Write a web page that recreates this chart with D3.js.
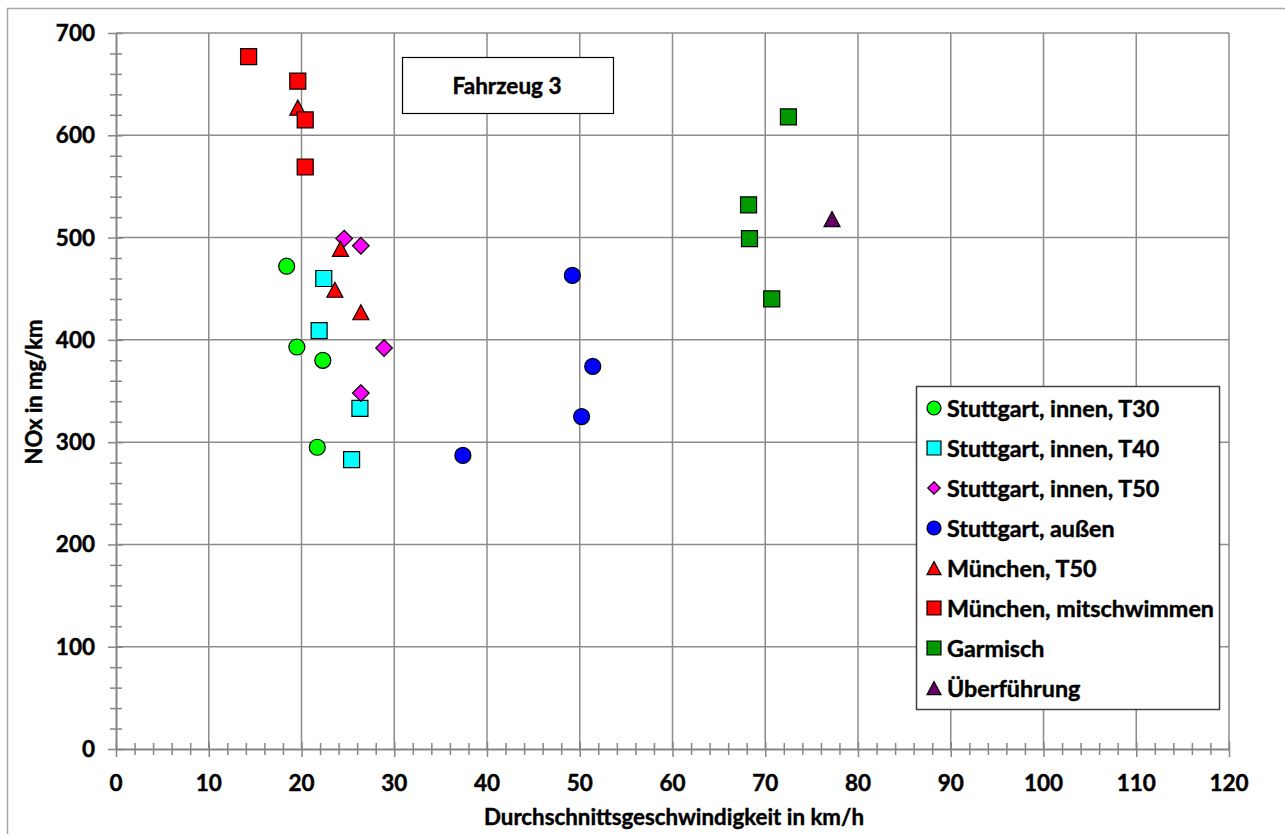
<!DOCTYPE html>
<html>
<head>
<meta charset="utf-8">
<script src="https://cdn.jsdelivr.net/npm/d3@7/dist/d3.min.js"></script>
<style>
  html, body { margin: 0; padding: 0; background: #fff; }
  svg { display: block; font-family: Lato, "Open Sans", sans-serif; font-weight: bold; }
  svg text { stroke: #000; stroke-width: 0.45px; }
</style>
</head>
<body>
<svg id="chart" width="1285" height="834"></svg>
<script>
// ---- data ----
const seriesNames = ["Stuttgart, innen, T30", "Stuttgart, innen, T40", "Stuttgart, innen, T50",
  "Stuttgart, außen", "München, T50", "München, mitschwimmen", "Garmisch", "Überführung"];
const t30Speed = [18.4, 19.5, 22.3, 21.7];
const t30NOx   = [472, 393, 380, 295];
const t40Speed = [22.4, 21.9, 26.3, 25.4];
const t40NOx   = [460, 409, 333, 283];
const t50Speed = [24.6, 26.4, 28.9, 26.4];
const t50NOx   = [499, 492, 392, 348];
const aussenSpeed = [49.2, 51.4, 50.2, 37.4];
const aussenNOx   = [463, 374, 325, 287];
const muenT50Speed = [19.6, 24.2, 23.6, 26.4];
const muenT50NOx   = [627, 489, 449, 427];
const muenMitSpeed = [14.3, 19.6, 20.4, 20.4];
const muenMitNOx   = [677, 653, 615, 569];
const garmischSpeed = [72.5, 68.2, 68.3, 70.7];
const garmischNOx   = [618, 532, 499, 440];
const ueberSpeed = [77.2];
const ueberNOx   = [518];
const xTicks = [0, 10, 20, 30, 40, 50, 60, 70, 80, 90, 100, 110, 120];
const yTicks = [0, 100, 200, 300, 400, 500, 600, 700];
const titleText = "Fahrzeug 3";
const xTitle = "Durchschnittsgeschwindigkeit in km/h";
const yTitle = "NOx in mg/km";

const series = [
  { name: seriesNames[0], xs: t30Speed, ys: t30NOx, shape: "circle", fill: "#00ff00" },
  { name: seriesNames[1], xs: t40Speed, ys: t40NOx, shape: "square", fill: "#00ffff" },
  { name: seriesNames[2], xs: t50Speed, ys: t50NOx, shape: "diamond", fill: "#ff00ff" },
  { name: seriesNames[3], xs: aussenSpeed, ys: aussenNOx, shape: "circle", fill: "#0000ff" },
  { name: seriesNames[4], xs: muenT50Speed, ys: muenT50NOx, shape: "triangle", fill: "#ff0000" },
  { name: seriesNames[5], xs: muenMitSpeed, ys: muenMitNOx, shape: "square", fill: "#ff0000" },
  { name: seriesNames[6], xs: garmischSpeed, ys: garmischNOx, shape: "square", fill: "#009900" },
  { name: seriesNames[7], xs: ueberSpeed, ys: ueberNOx, shape: "triangle", fill: "#660066" }
];

// ---- layout ----
const svg = d3.select("#chart");
const x = d3.scaleLinear().domain([0, 120]).range([116, 1229]);
const y = d3.scaleLinear().domain([0, 700]).range([749, 33]);

function shapePath(shape, s) {
  const h = s / 2;
  if (shape === "square") return `M${-h},${-h}H${h}V${h}H${-h}Z`;
  if (shape === "diamond") { const d = s * 0.52; return `M0,${-d}L${d},0L0,${d}L${-d},0Z`; }
  if (shape === "triangle") { const th = s * 0.47; return `M0,${-th}L${h},${th}L${-h},${th}Z`; }
  return `M${h},0A${h},${h} 0 1,1 ${-h},0A${h},${h} 0 1,1 ${h},0Z`;
}

// outer frame
svg.append("rect").attr("x", 7.5).attr("y", 8.5).attr("width", 1300).attr("height", 850)
  .attr("fill", "#fff").attr("stroke", "#a6a6a6").attr("stroke-width", 1.5);

// grid
const gridColor = "#8c8c8c";
svg.append("g").selectAll("line").data(xTicks.filter(d => d > 0)).join("line")
  .attr("x1", d => x(d)).attr("x2", d => x(d)).attr("y1", y(700)).attr("y2", y(0))
  .attr("stroke", gridColor).attr("stroke-width", 1.5);
svg.append("g").selectAll("line").data(yTicks.filter(d => d > 0)).join("line")
  .attr("x1", x(0)).attr("x2", x(120)).attr("y1", d => y(d)).attr("y2", d => y(d))
  .attr("stroke", gridColor).attr("stroke-width", 1.5);

// axes
const axisColor = "#868686";
const xAxis = d3.axisBottom(x).tickValues(d3.range(0, 121, 2)).tickSize(0).tickFormat("");
const yAxis = d3.axisLeft(y).tickValues(d3.range(0, 701, 20)).tickSize(0).tickFormat("");
const gx = svg.append("g").attr("transform", `translate(0,${y(0)})`).call(xAxis);
const gy = svg.append("g").attr("transform", `translate(${x(0)},0)`).call(yAxis);
gx.select(".domain").attr("stroke", axisColor).attr("stroke-width", 2);
gy.select(".domain").attr("stroke", axisColor).attr("stroke-width", 2);
gx.selectAll(".tick line").attr("y1", d => d % 10 === 0 ? -7 : -6).attr("y2", d => d % 10 === 0 ? 8 : 6)
  .attr("stroke", axisColor).attr("stroke-width", 1.5);
gy.selectAll(".tick line").attr("x1", d => d % 100 === 0 ? -8 : -6).attr("x2", d => d % 100 === 0 ? 7 : 6)
  .attr("stroke", axisColor).attr("stroke-width", 1.5);

// tick labels
svg.append("g").selectAll("text").data(xTicks).join("text")
  .attr("x", d => x(d)).attr("y", 791).attr("text-anchor", "middle")
  .attr("font-size", 22.5).attr("fill", "#000").text(d => d);
svg.append("g").selectAll("text").data(yTicks).join("text")
  .attr("x", 95).attr("y", d => y(d) + 8).attr("text-anchor", "end")
  .attr("font-size", 22.5).attr("fill", "#000").text(d => d);

// axis titles
svg.append("text").attr("x", 674).attr("y", 825).attr("text-anchor", "middle")
  .attr("font-size", 22.3).attr("fill", "#000").text(xTitle);
svg.append("text").attr("transform", "translate(42,392) rotate(-90)").attr("text-anchor", "middle")
  .attr("font-size", 22).attr("fill", "#000").text(yTitle);

// title box
svg.append("rect").attr("x", 402.5).attr("y", 57.5).attr("width", 211).attr("height", 56)
  .attr("fill", "#fff").attr("stroke", "#000").attr("stroke-width", 1.2);
svg.append("text").attr("x", 507).attr("y", 93.5).attr("text-anchor", "middle")
  .attr("font-size", 22.5).attr("fill", "#000").text(titleText);

// points
series.forEach(s => {
  const pts = s.xs.map((v, i) => [v, s.ys[i]]);
  svg.append("g").selectAll("path").data(pts).join("path")
    .attr("transform", d => `translate(${x(d[0])},${y(d[1])})`)
    .attr("d", shapePath(s.shape, 16))
    .attr("fill", s.fill).attr("stroke", "#000").attr("stroke-width", 1.2);
});

// legend
const lg = svg.append("g");
lg.append("rect").attr("x", 916.5).attr("y", 386.5).attr("width", 303).attr("height", 323)
  .attr("fill", "#fff").attr("stroke", "#404040").attr("stroke-width", 1.5);
series.forEach((s, i) => {
  const cy = 408 + i * 40;
  lg.append("path").attr("transform", `translate(934,${cy})`)
    .attr("d", shapePath(s.shape, s.shape === "diamond" ? 12 : 14))
    .attr("fill", s.fill).attr("stroke", "#000").attr("stroke-width", 1.2);
  lg.append("text").attr("x", 947).attr("y", cy + 8.5).attr("font-size", 23.3)
    .attr("fill", "#000").text(s.name);
});
</script>
</body>
</html>
